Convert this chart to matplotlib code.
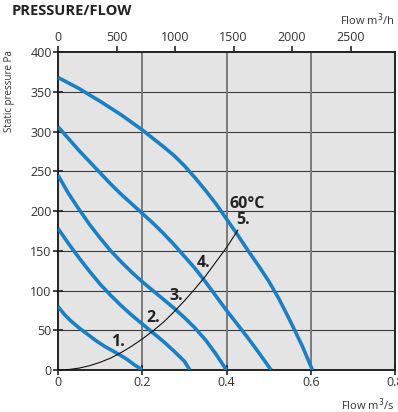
import matplotlib
matplotlib.use("Agg")
import matplotlib.pyplot as plt

plt.rcParams['font.family'] = ['Open Sans', 'DejaVu Sans']

# courbes ventilateur (debit m3/s, pression Pa)
c1_x = [0, 0.015, 0.03, 0.05, 0.07, 0.09, 0.11, 0.13, 0.15, 0.165, 0.18, 0.19, 0.2]
c1_y = [80, 70, 62, 53, 45, 37, 30, 24, 18, 13, 7, 3.5, 0]
c2_x = [0, 0.025, 0.05, 0.075, 0.1, 0.125, 0.15, 0.175, 0.2, 0.225, 0.25, 0.275,
        0.3, 0.313]
c2_y = [178, 159, 141, 124, 108, 94, 81, 69, 58, 47, 36, 24, 11, 0]
c3_x = [0, 0.025, 0.05, 0.075, 0.1, 0.125, 0.15, 0.175, 0.2, 0.225, 0.25, 0.275,
        0.3, 0.325, 0.35, 0.375, 0.4]
c3_y = [245, 222, 202, 183, 166, 150, 136, 123, 111, 100, 89, 78, 66, 53, 38, 20, 0]
c4_x = [0, 0.025, 0.05, 0.075, 0.1, 0.125, 0.15, 0.175, 0.2, 0.225, 0.25, 0.275,
        0.3, 0.325, 0.35, 0.375, 0.4, 0.425, 0.45, 0.475, 0.506]
c4_y = [306, 291, 276, 262, 248, 234, 221, 209, 197, 185, 172, 158, 143, 128, 111,
        93, 75, 58, 41, 23, 0]
c5_x = [0, 0.05, 0.1, 0.15, 0.2, 0.25, 0.275, 0.3, 0.325, 0.35, 0.375, 0.4, 0.425,
        0.45, 0.475, 0.5, 0.525, 0.55, 0.58, 0.604]
c5_y = [368, 354, 338, 321, 302, 281, 270, 257, 242, 226, 209, 190, 171, 151, 132,
        112, 89, 63, 30, 0]

# courbe systeme (noire)
sys_x = [0, 0.025, 0.05, 0.075, 0.1, 0.125, 0.15, 0.175, 0.2, 0.225, 0.25, 0.275,
         0.3, 0.325, 0.35, 0.375, 0.4, 0.427]
sys_y = [0, 0.6, 2.4, 5.4, 9.7, 15, 22, 30, 39, 49, 60, 73, 87, 102, 118, 136, 154,
         176]

etiquettes = ['1.', '2.', '3.', '4.', '5.']
etiq_x = [0.142, 0.226, 0.28, 0.346, 0.44]
etiq_y = [35, 65, 93, 134, 189]

bleu = '#1b7fc3'

fig = plt.figure(figsize=(3.98, 4.12), dpi=100)
ax = fig.add_axes([0.1457, 0.1019, 0.9925 - 0.1457, 0.8738 - 0.1019])
ax.set_facecolor('#e4e4e4')

for xs, ys in [(c1_x, c1_y), (c2_x, c2_y), (c3_x, c3_y), (c4_x, c4_y), (c5_x, c5_y)]:
    ax.plot(xs, ys, color=bleu, linewidth=2.6, solid_capstyle='butt',
            solid_joinstyle='round', zorder=3)
ax.plot(sys_x, sys_y, color='#111111', linewidth=0.8, zorder=4)

for t, x, y in zip(etiquettes, etiq_x, etiq_y):
    ax.text(x, y, t, ha='center', va='center', fontsize=11.5, fontweight='bold',
            color='#222222', zorder=5)
ax.text(0.448, 209, '60°C', ha='center', va='center', fontsize=11.5,
        fontweight='bold', color='#222222', zorder=5)

ax.set_xlim(0, 0.8)
ax.set_ylim(0, 400)
ax.set_xticks([0, 0.2, 0.4, 0.6, 0.8])
ax.set_xticklabels(['0', '0.2', '0.4', '0.6', '0.8'])
ax.set_yticks(range(0, 401, 50))

# grille : horizontales fines sombres, verticales grises
for v in range(50, 400, 50):
    ax.axhline(v, color='#3a3a3a', linewidth=0.8, zorder=1)
for v in [0.2, 0.4, 0.6]:
    ax.axvline(v, color='#7a7a7a', linewidth=1.4, zorder=1)

for s in ax.spines.values():
    s.set_color('#222222')
    s.set_linewidth(1.4)

ax.tick_params(axis='both', direction='inout', length=7, width=1.2,
               color='#222222', labelsize=9, labelcolor='#333333')
ax.tick_params(axis='y', pad=1)
ax.tick_params(axis='x', pad=1)

top = ax.secondary_xaxis('top', functions=(lambda x: x * 3600, lambda x: x / 3600))
top.set_xticks([0, 500, 1000, 1500, 2000, 2500])
top.tick_params(direction='out', length=4, width=1.2, color='#222222',
                labelsize=9, labelcolor='#333333', pad=2)
top.spines['top'].set_visible(False)

fig.text(0.03, 0.99, 'PRESSURE/FLOW', ha='left', va='top', fontsize=10.5,
         fontweight='bold', color='#222222')
fig.text(0.99, 0.952, 'Flow m$^3$/h', ha='right', va='center', fontsize=8,
         color='#333333')
fig.text(0.99, 0.017, 'Flow m$^3$/s', ha='right', va='center', fontsize=8,
         color='#333333')
fig.text(0.025, 0.878, 'Static pressure Pa', ha='center', va='top', rotation=90,
         fontsize=7, color='#333333')

fig.savefig('out.png', dpi=100)
